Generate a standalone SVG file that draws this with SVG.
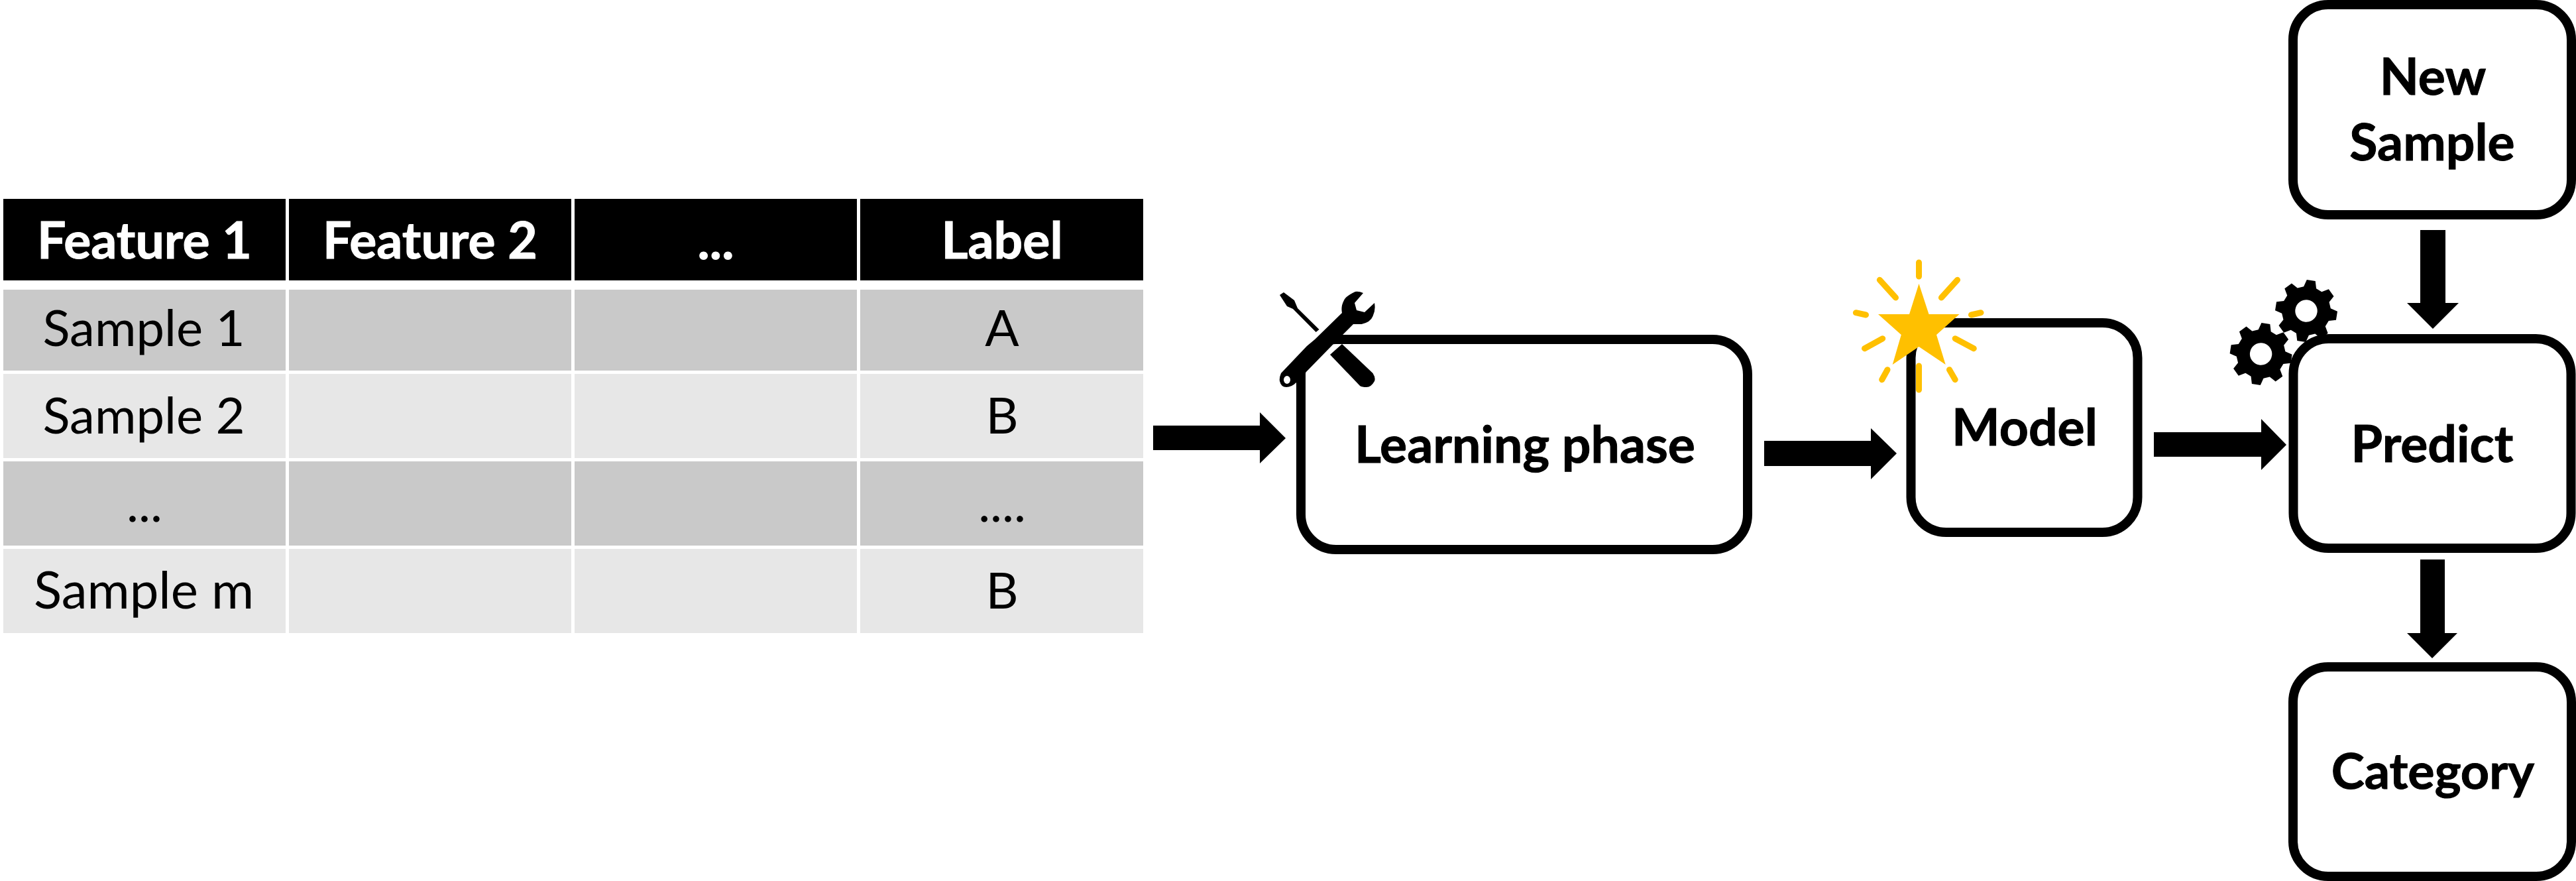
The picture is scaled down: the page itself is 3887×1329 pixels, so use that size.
<svg xmlns="http://www.w3.org/2000/svg" xmlns:xlink="http://www.w3.org/1999/xlink" width="3887" height="1329" viewBox="0 0 3887 1329">
<style>
.box{fill:#fff;stroke:#000;stroke-width:14}
.t{font-family:"Lato","Open Sans",sans-serif;font-size:76px;text-anchor:middle;fill:#000}
.b{font-weight:700;font-size:77px;stroke:#000;stroke-width:1}
.b.w{stroke:#fff}
.w{fill:#fff}
.h{fill:#000}.d{fill:#C9C9C9}.l{fill:#E7E7E7}
.ray{stroke:#FFC000;stroke-width:9;stroke-linecap:round;fill:none}
</style>
<defs>
<path id="gear" fill-rule="evenodd" d="M35.74-9.58L46.54-6.54 46.54 6.54 35.74 9.58 32.04 18.5 37.54 28.29 28.29 37.54 18.5 32.04 9.58 35.74 6.54 46.54-6.54 46.54-9.58 35.74-18.5 32.04-28.29 37.54-37.54 28.29-32.04 18.5-35.74 9.58-46.54 6.54-46.54-6.54-35.74-9.58-32.04-18.5-37.54-28.29-28.29-37.54-18.5-32.04-9.58-35.74-6.54-46.54 6.54-46.54 9.58-35.74 18.5-32.04 28.29-37.54 37.54-28.29 32.04-18.5ZM16.7 0A16.7 16.7 0 1 0-16.7 0 16.7 16.7 0 1 0 16.7 0Z"/>
</defs>
<rect width="3887" height="1329" fill="#fff"/>
<g id="table">
<rect class="h" x="5" y="300" width="426" height="123"/><rect class="h" x="436" y="300" width="426" height="123"/><rect class="h" x="867" y="300" width="426" height="123"/><rect class="h" x="1298" y="300" width="427" height="123"/>
<rect class="d" x="5" y="437" width="426" height="122"/><rect class="d" x="436" y="437" width="426" height="122"/><rect class="d" x="867" y="437" width="426" height="122"/><rect class="d" x="1298" y="437" width="427" height="122"/>
<rect class="l" x="5" y="564" width="426" height="127"/><rect class="l" x="436" y="564" width="426" height="127"/><rect class="l" x="867" y="564" width="426" height="127"/><rect class="l" x="1298" y="564" width="427" height="127"/>
<rect class="d" x="5" y="696" width="426" height="127"/><rect class="d" x="436" y="696" width="426" height="127"/><rect class="d" x="867" y="696" width="426" height="127"/><rect class="d" x="1298" y="696" width="427" height="127"/>
<rect class="l" x="5" y="828" width="426" height="127"/><rect class="l" x="436" y="828" width="426" height="127"/><rect class="l" x="867" y="828" width="426" height="127"/><rect class="l" x="1298" y="828" width="427" height="127"/>
<text class="t b w" x="218" y="390">Feature 1</text><text class="t b w" x="649" y="390">Feature 2</text><text class="t b w" x="1080" y="391">...</text><text class="t b w" x="1512" y="390">Label</text>
<text class="t" x="217" y="522">Sample 1</text><text class="t" x="1512" y="522">A</text>
<text class="t" x="217" y="654">Sample 2</text><text class="t" x="1512" y="654">B</text>
<text class="t" x="218" y="787">...</text><text class="t" x="1512" y="787">....</text>
<text class="t" x="217" y="918" style="font-size:78px">Sample m</text><text class="t" x="1512" y="918">B</text>
</g>
<g id="connectors">
<path d="M1740 642H1901V622L1940 661 1901 699V679H1740Z"/>
<path d="M2662 665H2823V646L2862 684 2823 723V703H2662Z"/>
<path d="M3250 652H3412V632L3450 671 3412 709V689H3250Z"/>
<path d="M3652 347H3690V457H3710L3671 496 3632 457H3652Z"/>
<path d="M3652 844H3689V955H3708L3670 993 3632 955H3652Z"/>
</g>
<g id="learning"><rect class="box" x="1963" y="512" width="674" height="317" rx="53"/><text class="t b" x="2301" y="698">Learning phase</text>
<path d="M1931 445L1937 441 1953 453 1958 465 1990.5 497 1985.7 501 1951 466 1942 462Z"/>
<path d="M2007 535L2025 519 2071.5 563Q2076 570 2074 575 2069 584 2062 584 2055 584 2052 582Z"/>
<path fill-rule="evenodd" d="M2057 442Q2050 439 2045 440 2030 447 2028 453 2023 462 2025 472L1984 512 1972 522 1933 563Q1930 570 1931 575 1933 584 1941 584 1949 584 1956 577L1970 562 2011 520 2042 489H2054.5Q2068 486 2071.5 477 2076 468 2074 457L2059 471 2047 468 2044 457ZM1947 573A5 6 0 1 0 1937 573 5 6 0 1 0 1947 573Z"/>
</g>
<g id="model"><rect class="box" x="2883.5" y="487" width="342" height="316" rx="53"/><text class="t b" x="3055" y="672">Model</text>
<path fill="#FFC000" d="M2895.5 428L2910.5 474H2956.5L2922 505 2935.7 550 2895.5 523 2855.7 550 2868.8 505 2834 474H2881Z"/>
<path class="ray" d="M2895.5 396V417M2836.3 422.3L2860.5 449M2953.6 422.3L2929.4 449M2800.4 471.7L2815.5 475M2989 471.7L2974.5 475M2840.7 510.7L2813.5 525.7M2950.2 510.7L2978.3 525.7M2895.5 552V588M2848 557.7L2839.7 572.7M2941.5 557.7L2950.2 572.7"/>
</g>
<g id="predict"><rect class="box" x="3460.5" y="511" width="419" height="316" rx="53"/><text class="t b" x="3670" y="697">Predict</text>
<use xlink:href="#gear" transform="translate(3480 469) rotate(9)"/><use xlink:href="#gear" transform="translate(3411.6 534) rotate(9)"/>
</g>
<g id="new-sample"><rect class="box" x="3460" y="7" width="420" height="317" rx="53"/><text class="t b" x="3671" y="143">New</text><text class="t b" x="3670" y="242">Sample</text></g>
<g id="category"><rect class="box" x="3460" y="1006" width="420" height="316" rx="53"/><text class="t b" x="3671" y="1190" style="font-size:75.5px">Category</text></g>
</svg>
